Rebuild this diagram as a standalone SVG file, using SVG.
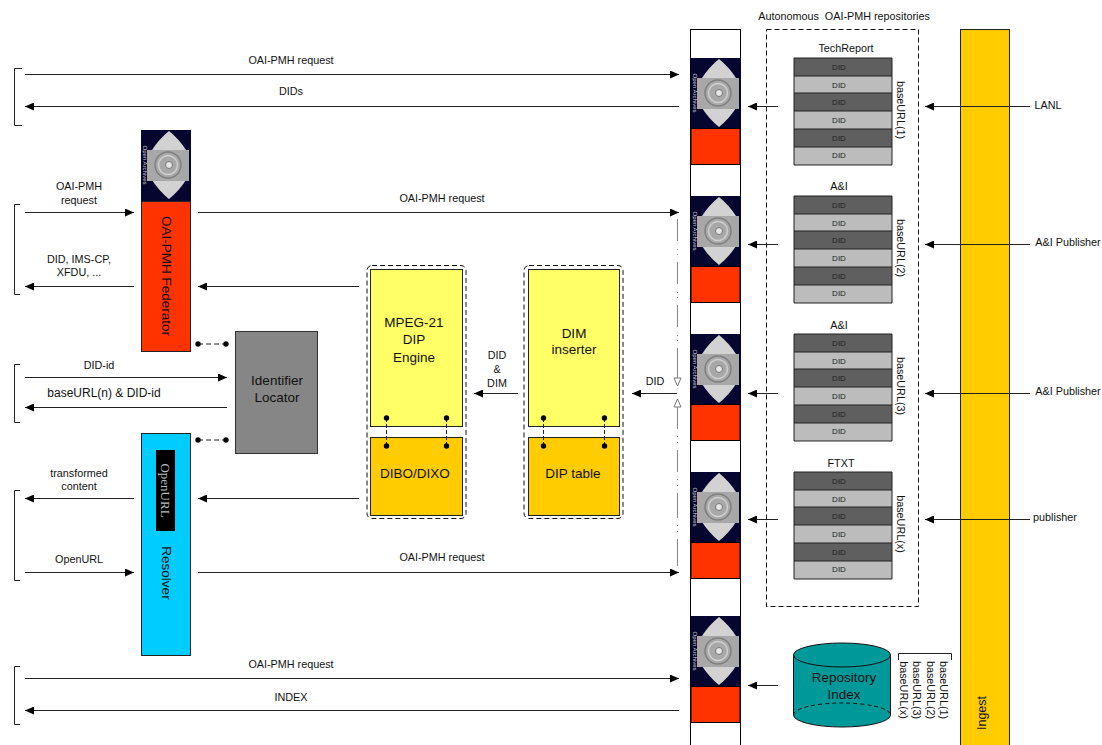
<svg xmlns="http://www.w3.org/2000/svg" width="1102" height="745" viewBox="0 0 1102 745">
<style>
text{font-family:"Liberation Sans",Arial,sans-serif;fill:#111;text-anchor:middle}
.s{font-size:10.800px}.m{font-size:13.500px}
.did{font-size:8px;fill:#222}
.c line,.c path{fill:none;stroke:#222;stroke-width:1}
.dg{fill:#5f5f5f}.lg{fill:#bcbcbc}
.br{fill:none;stroke:#222;stroke-width:1}
.dash{fill:none;stroke:#111;stroke-width:1;stroke-dasharray:5 3}
.dot{fill:#000}
.k{stroke:#000;stroke-width:1}
.c path.gl{stroke:#888}
</style>
<defs>
<marker id="a" markerWidth="10" markerHeight="8" refX="9" refY="4" orient="auto" markerUnits="userSpaceOnUse"><path d="M0 0L9 4L0 8Z" fill="#000"/></marker>
<marker id="o" markerWidth="11" markerHeight="9" refX="9" refY="4.500" orient="auto" markerUnits="userSpaceOnUse"><path d="M1 1L9 4.500L1 8Z" fill="#fff" stroke="#777"/></marker>
<g id="logo">
<rect width="50" height="71" fill="#050530"/>
<path d="M28 1Q38 9 45 20V50Q38 61 28 69Q18 61 11 50V20Q18 9 28 1Z" fill="#d2d2d2"/>
<rect x="6" y="20" width="42" height="31" fill="#a8a8a8"/>
<circle cx="27" cy="35" r="13" fill="none" stroke="#808080" stroke-width="1.500"/>
<circle cx="27" cy="35" r="9.500" fill="none" stroke="#cfcfcf" stroke-width="1.500"/>
<circle cx="28" cy="35" r="3.500" fill="#e6e6e6" stroke="#777"/>
<text transform="translate(1.500 35) rotate(90)" style="font-size:6px;fill:#ccc">Open Archives</text>
</g>
<g id="stack">
<rect width="98" height="18" y="0" class="dg"/><rect width="98" height="18" y="18" class="lg"/>
<rect width="98" height="18" y="35" class="dg"/><rect width="98" height="18" y="53" class="lg"/>
<rect width="98" height="18" y="71" class="dg"/><rect width="98" height="18" y="89" class="lg"/>
<path d="M0 0H98V107H0Z M0 18H98M0 35H98M0 53H98M0 71H98M0 89H98" fill="none" stroke="#222"/>
<text class="did" x="45" y="12">DID</text><text class="did" x="45" y="30">DID</text><text class="did" x="45" y="47">DID</text><text class="did" x="45" y="65">DID</text><text class="did" x="45" y="83">DID</text><text class="did" x="45" y="100">DID</text>
</g>
</defs>

<g id="ingest"><rect x="960.500" y="29.500" width="49" height="716" fill="#ffcc00" stroke="#222"/>
<text transform="translate(986 713) rotate(-90)" style="font-size:12.500px">Ingest</text></g>

<g id="repository-column">
<rect x="690.500" y="29.500" width="50" height="716" fill="#fff" stroke="#000"/>
<use href="#logo" x="691" y="58"/><rect x="691" y="128.500" width="49" height="36" fill="#ff3300" class="k"/>
<use href="#logo" x="691" y="196"/><rect x="691" y="266.500" width="49" height="36" fill="#ff3300" class="k"/>
<use href="#logo" x="691" y="334"/><rect x="691" y="404.500" width="49" height="36" fill="#ff3300" class="k"/>
<use href="#logo" x="691" y="472"/><rect x="691" y="542.500" width="49" height="36" fill="#ff3300" class="k"/>
<use href="#logo" x="691" y="616"/><rect x="691" y="686.500" width="49" height="36" fill="#ff3300" class="k"/>
</g>

<g id="repositories">
<text class="s" x="844" y="20" xml:space="preserve">Autonomous  OAI-PMH repositories</text>
<rect x="766.500" y="29.500" width="152" height="577" class="dash"/>
<text class="s" x="846" y="52">TechReport</text><use href="#stack" x="794" y="58"/>
<text class="s" x="839" y="190">A&amp;I</text><use href="#stack" x="794" y="196"/>
<text class="s" x="839" y="329">A&amp;I</text><use href="#stack" x="794" y="334"/>
<text class="s" x="841" y="467">FTXT</text><use href="#stack" x="794" y="472"/>
<text class="s" transform="translate(897 110) rotate(90)">baseURL(1)</text>
<text class="s" transform="translate(897 248) rotate(90)">baseURL(2)</text>
<text class="s" transform="translate(897 386) rotate(90)">baseURL(3)</text>
<text class="s" transform="translate(897 524) rotate(90)">baseURL(x)</text>
</g>

<g id="repository-index">
<path d="M793.500 655V715A48.500 12 0 0 0 890.500 715V655Z" fill="#009999" stroke="#111"/>
<ellipse cx="842" cy="655" rx="48.500" ry="12" fill="#009999" stroke="#111"/>
<path d="M793.500 715A48.500 12 0 0 1 890.500 715" fill="none" stroke="#111" stroke-dasharray="4 3"/>
<text class="m" x="844" y="682">Repository</text><text class="m" x="844" y="699">Index</text>
<path d="M898.500 660V653.500H951.500V660" class="br"/>
<text class="s" transform="translate(900 690) rotate(90)">baseURL(x)</text>
<text class="s" transform="translate(913 690) rotate(90)">baseURL(3)</text>
<text class="s" transform="translate(927 690) rotate(90)">baseURL(2)</text>
<text class="s" transform="translate(940 690) rotate(90)">baseURL(1)</text>
</g>

<g id="federator">
<rect x="141.500" y="201.500" width="49" height="150" fill="#ff3300" stroke="#222"/>
<use href="#logo" x="141" y="130"/>
<text class="m" transform="translate(161.500 276) rotate(90)">OAI-PMH Federator</text>
</g>

<g id="resolver">
<rect x="141.500" y="433.500" width="49" height="222" fill="#00ccff" stroke="#222"/>
<rect x="156" y="450" width="19" height="81" fill="#000"/>
<text transform="translate(161 490.500) rotate(90)" style="font-family:'Liberation Serif',serif;font-size:13px;fill:#bbb">OpenURL</text>
<text class="m" transform="translate(161.500 573) rotate(90)">Resolver</text>
</g>

<g id="identifier-locator">
<rect x="235.500" y="331.500" width="82" height="122" fill="#868686" stroke="#333"/>
<text class="m" x="277" y="385">Identifier</text><text class="m" x="277" y="402">Locator</text>
</g>

<g id="dip-engine">
<rect x="367" y="265.500" width="99" height="253" rx="5" class="dash"/>
<rect x="370.500" y="269.500" width="92" height="157" fill="#ffff66" stroke="#222"/>
<rect x="370.500" y="437.500" width="92" height="78" fill="#ffcc00" stroke="#222"/>
<text class="m" x="414" y="327">MPEG-21</text><text class="m" x="414" y="344">DIP</text><text class="m" x="414" y="362">Engine</text>
<text class="m" x="415" y="478">DIBO/DIXO</text>
</g>

<g id="dim-inserter">
<rect x="524" y="265.500" width="99" height="253" rx="5" class="dash"/>
<rect x="528.500" y="269.500" width="91" height="157" fill="#ffff66" stroke="#222"/>
<rect x="528.500" y="437.500" width="91" height="78" fill="#ffcc00" stroke="#222"/>
<text class="m" x="574" y="338">DIM</text><text class="m" x="574" y="354">inserter</text>
<text class="m" x="573" y="478">DIP table</text>
</g>

<g id="connectors" class="c">
<path d="M22 68.500H14.500V125.500H22"/>
<line x1="25" y1="74.500" x2="679" y2="74.500" marker-end="url(#a)"/>
<line x1="679" y1="106.500" x2="25" y2="106.500" marker-end="url(#a)"/>
<path d="M20 204.500H14.500V294.500H20"/>
<line x1="25" y1="212.500" x2="134" y2="212.500" marker-end="url(#a)"/>
<line x1="134" y1="286.500" x2="25" y2="286.500" marker-end="url(#a)"/>
<line x1="198" y1="212.500" x2="679" y2="212.500" marker-end="url(#a)"/>
<line x1="359" y1="286.500" x2="198" y2="286.500" marker-end="url(#a)"/>
<path d="M20 364.500H14.500V422.500H20"/>
<line x1="25" y1="377.500" x2="227" y2="377.500" marker-end="url(#a)"/>
<line x1="227" y1="407.500" x2="25" y2="407.500" marker-end="url(#a)"/>
<path d="M20 490.500H14.500V580.500H20"/>
<line x1="134" y1="498.500" x2="25" y2="498.500" marker-end="url(#a)"/>
<line x1="25" y1="572.500" x2="134" y2="572.500" marker-end="url(#a)"/>
<line x1="359" y1="498.500" x2="198" y2="498.500" marker-end="url(#a)"/>
<line x1="198" y1="572.500" x2="679" y2="572.500" marker-end="url(#a)"/>
<path d="M20 666.500H14.500V724.500H20"/>
<line x1="25" y1="678.500" x2="679" y2="678.500" marker-end="url(#a)"/>
<line x1="679" y1="710.500" x2="25" y2="710.500" marker-end="url(#a)"/>
<line x1="518" y1="393.500" x2="474" y2="393.500" marker-end="url(#a)"/>
<line x1="677" y1="393.500" x2="632" y2="393.500" marker-end="url(#a)"/>
<path class="gl" d="M677.500 219V386" stroke-dasharray="22 8 1 4 1 7 22 8 1 4 1 7 22 8 1 4 1 7 40" marker-end="url(#o)"/>
<path class="gl" d="M677.500 566V399" stroke-dasharray="27 7 1 5 1 7 25 7 1 5 1 7 22 7 1 5 1 7 40" marker-end="url(#o)"/>
<line x1="778" y1="106.500" x2="748" y2="106.500" marker-end="url(#a)"/>
<line x1="778" y1="244.500" x2="748" y2="244.500" marker-end="url(#a)"/>
<line x1="778" y1="393.500" x2="748" y2="393.500" marker-end="url(#a)"/>
<line x1="778" y1="519.500" x2="748" y2="519.500" marker-end="url(#a)"/>
<line x1="778" y1="685.500" x2="748" y2="685.500" marker-end="url(#a)"/>
<line x1="1030" y1="106.500" x2="925" y2="106.500" marker-end="url(#a)"/>
<line x1="1030" y1="244.500" x2="925" y2="244.500" marker-end="url(#a)"/>
<line x1="1030" y1="393.500" x2="925" y2="393.500" marker-end="url(#a)"/>
<line x1="1030" y1="519.500" x2="925" y2="519.500" marker-end="url(#a)"/>
<path d="M198 344H226M198 440H226" stroke-dasharray="5 3"/>
<path d="M386.500 418V446M446.500 418V446M543.500 418V446M604.500 418V446" stroke-dasharray="4 2"/>
<g class="dot">
<circle cx="198" cy="344" r="2.700"/><circle cx="226" cy="344" r="2.700"/><circle cx="198" cy="440" r="2.700"/><circle cx="226" cy="440" r="2.700"/>
<circle cx="386.500" cy="418" r="2.700"/><circle cx="446.500" cy="418" r="2.700"/><circle cx="386.500" cy="446" r="2.700"/><circle cx="446.500" cy="446" r="2.700"/>
<circle cx="543.500" cy="418" r="2.700"/><circle cx="604.500" cy="418" r="2.700"/><circle cx="543.500" cy="446" r="2.700"/><circle cx="604.500" cy="446" r="2.700"/>
</g>
</g>

<g id="labels">
<text class="s" x="291" y="64">OAI-PMH request</text>
<text class="s" x="291" y="95">DIDs</text>
<text class="s" x="79" y="190">OAI-PMH</text><text class="s" x="79" y="204">request</text>
<text class="s" x="79" y="263">DID, IMS-CP,</text><text class="s" x="79" y="276">XFDU, ...</text>
<text class="s" x="442" y="202">OAI-PMH request</text>
<text class="s" x="99" y="369">DID-id</text>
<text x="104" y="397" style="font-size:12px">baseURL(n) &amp; DID-id</text>
<text class="s" x="79" y="477">transformed</text><text class="s" x="79" y="490">content</text>
<text class="s" x="79" y="563">OpenURL</text>
<text class="s" x="442" y="561">OAI-PMH request</text>
<text class="s" x="291" y="668">OAI-PMH request</text>
<text class="s" x="291" y="701">INDEX</text>
<text class="s" x="497" y="359">DID</text><text class="s" x="497" y="373">&amp;</text><text class="s" x="497" y="387">DIM</text>
<text class="s" x="655" y="385">DID</text>
<text class="s" x="1048" y="109">LANL</text>
<text class="s" x="1068" y="246">A&amp;I Publisher</text>
<text class="s" x="1068" y="395">A&amp;I Publisher</text>
<text class="s" x="1055" y="521">publisher</text>
</g>
</svg>
